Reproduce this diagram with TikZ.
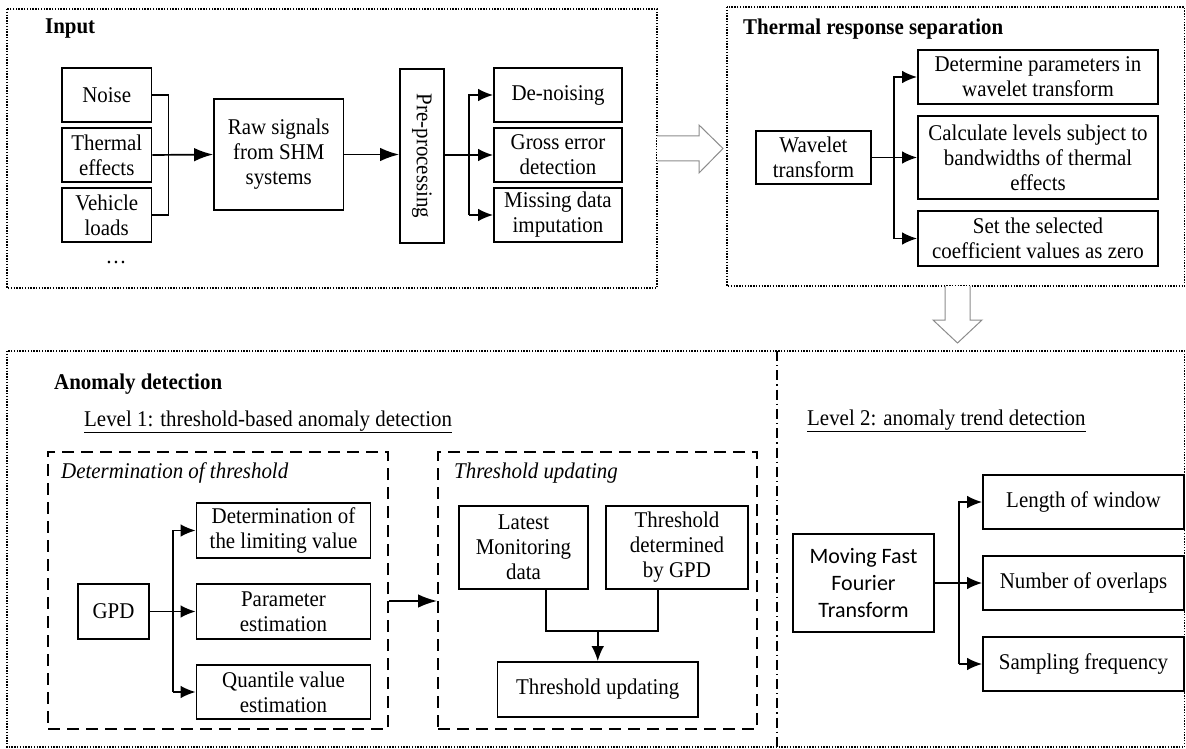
\documentclass[tikz,border=0pt]{standalone}
\usepackage{fontspec}
\setmainfont[FakeStretch=0.93]{Liberation Serif}
\newfontfamily\calib{Carlito}
\usetikzlibrary{arrows.meta}
\begin{document}
\begin{tikzpicture}[x=1pt,y=-1pt,
  txt/.style={font=\fontsize{22.5}{25}\selectfont},
  box/.style={draw, line width=1.7pt, inner sep=0pt, align=center, txt},
  title/.style={anchor=west, inner sep=0pt, font=\fontsize{22.5}{25}\selectfont\bfseries},
  sub/.style={anchor=west, inner sep=0pt, font=\fontsize{22.5}{25}\selectfont},
  itl/.style={anchor=west, inner sep=0pt, font=\fontsize{22.5}{25}\selectfont\itshape},
  conn/.style={line width=1.7pt},
  arr/.style={line width=1.7pt, -{Latex[length=15pt,width=12.5pt]}},
  bigarr/.style={line width=1.7pt, -{Latex[length=19pt,width=13.5pt]}},
  dotbox/.style={draw, line width=1.4pt, dash pattern=on 1.4pt off 1.4pt},
  dashbox/.style={draw, line width=1.9pt, dash pattern=on 12pt off 7pt, inner sep=0pt},
  hollow/.style={draw=black!45, fill=white, line width=1pt, line join=miter}
]
\useasboundingbox (0,0) rectangle (1186,749);

% ---------------- Input ----------------
\draw[dotbox] (7,9) rectangle (657,288);
\node[title] (tin) at (45,29) {Input};
\node[box, minimum width=89.5, minimum height=54] (noise) at (106.75,95) {Noise};
\node[box, minimum width=89.5, minimum height=54] (thermal) at (106.75,155) {Thermal\\effects};
\node[box, minimum width=89.5, minimum height=54] (vehicle) at (106.75,215) {Vehicle\\loads};
\node[txt, inner sep=0pt] (dots) at (116,262) {\dots};
\node[box, minimum width=129.5, minimum height=111] (raw) at (278.75,154.5) {Raw signals\\from SHM\\systems};
\node[draw, line width=1.7pt, minimum width=44, minimum height=174, inner sep=0pt] (pre) at (422,156) {};
\node[txt, rotate=-90, inner sep=0pt] (pretxt) at (pre.center) {Pre-processing};
\node[box, minimum width=128, minimum height=54] (denoise) at (558,95) {De-noising};
\node[box, minimum width=128, minimum height=54] (gross) at (558,155) {Gross error\\detection};
\node[box, minimum width=128, minimum height=54] (missing) at (558,215) {Missing data\\imputation};

\coordinate (b1) at (168.5,0);
\draw[conn] (noise.east) -- (noise.east -| b1) -- (vehicle.east -| b1) -- (vehicle.east);
\draw[bigarr] (thermal.east) -- (raw.west);
\draw[bigarr] (raw.east) -- (raw.east -| pre.west);
\coordinate (b2) at (469,0);
\draw[conn] (pre.east |- gross) -- (b2 |- gross);
\draw[arr] (b2 |- missing) -- (b2 |- denoise) -- (denoise.west);
\draw[arr] (b2 |- gross) -- (gross.west);
\draw[arr] (b2 |- missing) -- (missing.west);

% hollow arrow right
\draw[hollow] (657,136) -- (699,136) -- (699,125) -- (723,148.5) -- (699,173) -- (699,161) -- (657,161);

% ---------------- Thermal response separation ----------------
\draw[dotbox] (727,7) rectangle (1184.5,286);
\node[title] (tth) at (743,29) {Thermal response separation};
\node[box, minimum width=115, minimum height=53] (wave) at (813.5,157.5) {Wavelet\\transform};
\node[box, minimum width=240, minimum height=54] (tp1) at (1038,77) {Determine parameters in\\wavelet transform};
\node[box, minimum width=240, minimum height=83] (tp2) at (1038,157.5) {Calculate levels subject to\\bandwidths of thermal\\effects};
\node[box, minimum width=240, minimum height=55] (tp3) at (1038,238.5) {Set the selected\\coefficient values as zero};
\coordinate (b3) at (894,0);
\draw[conn] (wave.east) -- (b3 |- wave);
\draw[arr] (b3 |- tp3) -- (b3 |- tp1) -- (tp1.west);
\draw[arr] (b3 |- tp2) -- (tp2.west);
\draw[arr] (b3 |- tp3) -- (tp3.west);

% hollow arrow down
\draw[hollow] (945,286) -- (945,320) -- (933,320) -- (957.5,343) -- (982,320) -- (970,320) -- (970,286);

% ---------------- Anomaly detection ----------------
\draw[dotbox] (7,351) rectangle (1184.5,747);
\draw[line width=1.3pt, dash pattern=on 10pt off 4pt on 1.3pt off 4pt] (777,351) -- (777,747);
\node[title] (tan) at (54,384) {Anomaly detection};
\node[sub] (lv1) at (84,422) {\underline{Level 1: threshold-based anomaly detection}};
\node[sub] (lv2) at (807,421) {\underline{Level 2: anomaly trend detection}};

\node[dashbox, minimum width=340, minimum height=277] (dt) at (218,590.5) {};
\node[itl] (dtt) at (61,473) {Determination of threshold};
\node[box, minimum width=71, minimum height=55] (gpd) at (113.5,611.5) {GPD};
\node[box, minimum width=174, minimum height=55] (lim) at (283.5,530.5) {Determination of\\the limiting value};
\node[box, minimum width=174, minimum height=55] (par) at (283.5,611.5) {Parameter\\estimation};
\node[box, minimum width=174, minimum height=54] (qua) at (283.5,692) {Quantile value\\estimation};
\coordinate (b4) at (173,0);
\draw[conn] (gpd.east) -- (b4 |- gpd);
\draw[arr] (b4 |- qua) -- (b4 |- lim) -- (lim.west);
\draw[arr] (b4 |- par) -- (par.west);
\draw[arr] (b4 |- qua) -- (qua.west);

\node[dashbox, minimum width=319, minimum height=277] (tu) at (597.5,590.5) {};
\node[itl] (tut) at (454,473) {Threshold updating};
\node[box, minimum width=129, minimum height=83] (lat) at (523.5,547.5) {Latest\\Monitoring\\data};
\node[box, minimum width=142, minimum height=83] (tgp) at (677,547.5) {Threshold\\determined\\by GPD};
\node[box, minimum width=200.5, minimum height=55] (upd) at (597.75,689.5) {Threshold updating};
\draw[bigarr] ([yshift=-10.5pt]dt.east) -- ([yshift=-10.5pt]tu.west);
\coordinate (jn) at (0,631);
\path ([xshift=22.5pt]lat.south) coordinate (ls);
\path ([xshift=-19pt]tgp.south) coordinate (rs);
\draw[conn] (ls) -- (ls |- jn) -- (rs |- jn) -- (rs);
\draw[arr] (upd.north |- jn) -- (upd.north);

\node[box, font=\calib\fontsize{22}{27}\selectfont, minimum width=141, minimum height=98] (fft) at (863.5,583) {Moving Fast\\Fourier\\Transform};
\node[box, minimum width=201, minimum height=54] (len) at (1083.5,502) {Length of window};
\node[box, minimum width=201, minimum height=54] (num) at (1083.5,583) {Number of overlaps};
\node[box, minimum width=201, minimum height=54] (smp) at (1083.5,664) {Sampling frequency};
\coordinate (b5) at (959,0);
\draw[conn] (fft.east) -- (b5 |- fft);
\draw[arr] (b5 |- smp) -- (b5 |- len) -- (len.west);
\draw[arr] (b5 |- num) -- (num.west);
\draw[arr] (b5 |- smp) -- (smp.west);
\end{tikzpicture}
\end{document}
